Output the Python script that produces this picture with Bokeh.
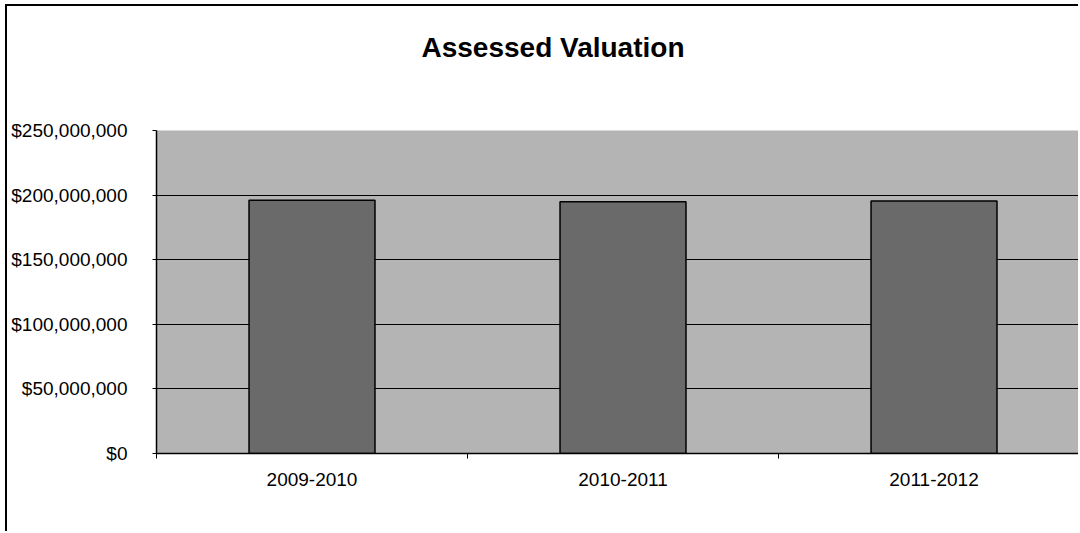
from bokeh.plotting import figure
from bokeh.models import (ColumnDataSource, FixedTicker, NumeralTickFormatter,
                          Range1d, Title)
from bokeh.embed import file_html
from bokeh.resources import INLINE

# ---- data ----
categories = ["2009-2010", "2010-2011", "2011-2012"]
values = [196000000, 194900000, 195400000]
y_ticks = [0, 50000000, 100000000, 150000000, 200000000, 250000000]
title_text = "Assessed Valuation"

x_pos = [i + 0.5 for i in range(len(categories))]
src = ColumnDataSource(dict(x=x_pos, top=values, cat=categories))

p = figure(width=1073, height=527, output_backend="svg", toolbar_location=None,
           x_range=Range1d(0, 2.971), y_range=Range1d(0, y_ticks[-1]),
           min_border_left=149, min_border_right=0, min_border_top=20,
           min_border_bottom=80)
p.styles = {"border-left": "2px solid black", "border-top": "2px solid black",
            "margin-left": "5px", "margin-top": "4px"}

p.background_fill_color = "#b4b4b4"
p.border_fill_color = "white"
p.outline_line_color = None

p.vbar(x="x", top="top", width=0.405, source=src, fill_color="#6a6a6a",
       line_color="black", line_width=1.5)

# spacer between title and plot area, then the title
spacer = Title(text=" ", text_font_size="10px", standoff=31)
p.add_layout(spacer, "above")
t = Title(text=title_text, align="left", offset=265, standoff=47,
          text_font="Liberation Sans", text_font_size="28px",
          text_font_style="bold", text_color="black")
p.add_layout(t, "above")

# y axis
p.yaxis.ticker = FixedTicker(ticks=y_ticks)
p.yaxis.formatter = NumeralTickFormatter(format="$0,0")
p.yaxis.major_label_text_font = "Liberation Sans"
p.yaxis.major_label_text_font_size = "19px"
p.yaxis.major_label_text_color = "black"
p.yaxis.major_label_standoff = 25
p.yaxis.major_tick_out = 4
p.yaxis.major_tick_in = 0
p.yaxis.minor_tick_out = 0
p.yaxis.minor_tick_in = 0
p.yaxis.axis_line_color = "black"
p.yaxis.axis_line_width = 1.5
p.yaxis.major_tick_line_color = "black"

# x axis
p.xaxis.ticker = FixedTicker(ticks=x_pos,
                             minor_ticks=list(range(len(categories) + 1)))
p.xaxis.major_label_overrides = {x: c for x, c in zip(x_pos, categories)}
p.xaxis.major_label_text_font = "Liberation Sans"
p.xaxis.major_label_text_font_size = "19px"
p.xaxis.major_label_text_color = "black"
p.xaxis.major_label_standoff = 14
p.xaxis.major_tick_out = 0
p.xaxis.major_tick_in = 0
p.xaxis.minor_tick_out = 5
p.xaxis.minor_tick_in = 0
p.xaxis.minor_tick_line_color = "black"
p.xaxis.axis_line_color = "black"
p.xaxis.axis_line_width = 1.5

# grid
p.xgrid.grid_line_color = None
p.ygrid.ticker = FixedTicker(ticks=y_ticks[1:-1])
p.ygrid.grid_line_color = "black"
p.ygrid.grid_line_width = 1.2

open("out.html", "w").write(file_html(p, INLINE))
